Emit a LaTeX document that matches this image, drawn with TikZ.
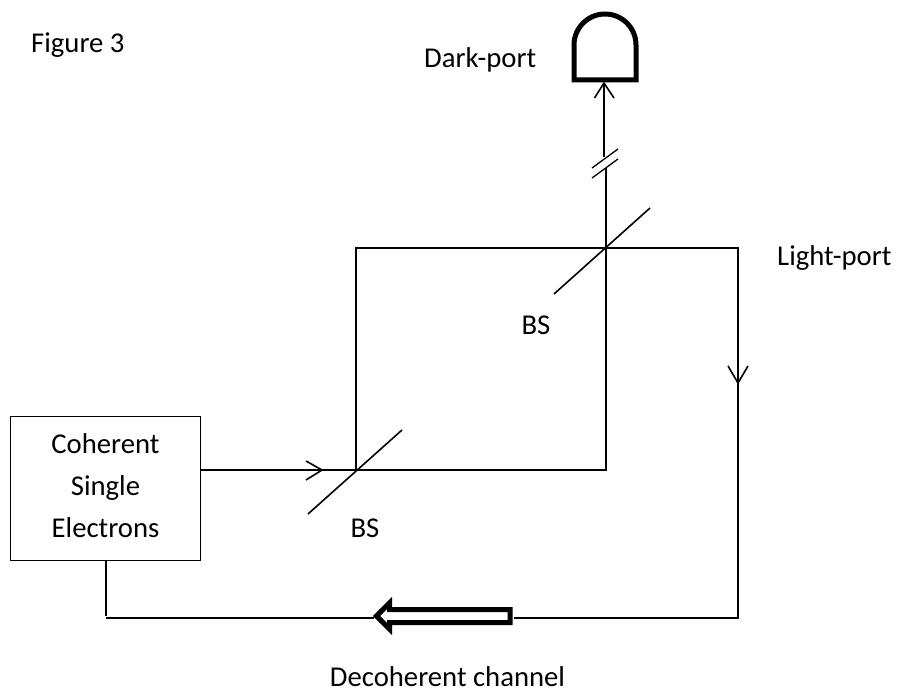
\documentclass[tikz,border=0pt]{standalone}
\usepackage{fontspec}
\setmainfont{Carlito}
\tikzset{
  wire/.style={line width=1.6pt,black},
  thin wire/.style={line width=1.3pt,black},
  lbl/.style={inner sep=0pt,font=\fontsize{28.7}{34}\selectfont},
}
\begin{document}
\begin{tikzpicture}[x=1pt,y=-1pt]
\useasboundingbox (0,0) rectangle (899,690);
\node[lbl,anchor=west] (fig) at (31,45) {Figure 3};
\node[lbl,anchor=west] (dark) at (424,60) {Dark-port};
\node[lbl,anchor=west] (light) at (777,258) {Light-port};
\node[lbl] (bs1) at (536,325) {BS};
\node[lbl] (bs2) at (365,528) {BS};
\node[lbl,anchor=base] (dec) at (447.5,686.5) {Decoherent channel};
\node[draw,line width=1pt,minimum width=190pt,minimum height=144pt,inner sep=0pt,text depth=5pt,align=center,anchor=north west,font=\fontsize{28.7}{42}\selectfont] (src) at (10,416) {Coherent\\Single\\Electrons};
% coordinates
\coordinate (a) at (356,470);
\coordinate (b) at (356,248);
\coordinate (c) at (606,248);
\coordinate (d) at (606,470);
\coordinate (e) at (738,248);
\coordinate (f) at (738,618);
\coordinate (g) at (106,618);
\coordinate (t1) at (604,83);
% detector
\draw[line width=5pt,miter limit=10] (574,80) -- (574,45) arc[start angle=180,end angle=360,x radius=31,y radius=31] -- (636,80) -- cycle;
% wires
\draw[wire] (src.east |- a) -- (a) -- (d) -- (c) -- (b) -- (a);
\draw[wire] (c) -- (e) -- (f) -- (514,618);
\draw[wire] (d) -- (606,168);
\draw[wire] (604,157) -- (t1);
\draw[wire] (594.5,98) -- (t1) -- (614,98);
\draw[thin wire] (592,168) -- (618,149);
\draw[thin wire] (592,178) -- (618,159);
\draw[wire] (554,294) -- (650,208);
\draw[wire] (308,514) -- (402,430);
\draw[wire] (306,461) -- (322,470) -- (306,480);
\draw[wire] (728,366) -- (738,383) -- (748,366);
\draw[wire] (src.south -| g) -- (106,616);
\draw[wire] (g) -- (374,618);
% hollow arrow
\draw[line width=5pt,fill=white,miter limit=10] (510,609.5) -- (389.5,609.5) -- (389.5,603) -- (376.5,616) -- (389.5,629) -- (389.5,622.5) -- (510,622.5) -- cycle;
\end{tikzpicture}
\end{document}
